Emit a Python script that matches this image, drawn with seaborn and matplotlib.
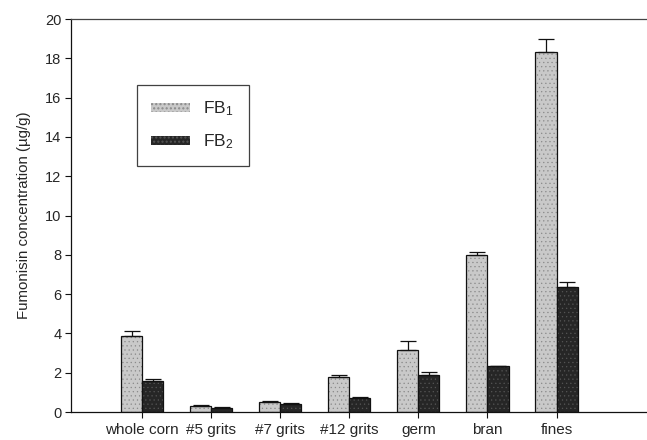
import numpy as np
import pandas as pd
import matplotlib
matplotlib.use("Agg")
import matplotlib.pyplot as plt
import seaborn as sns
from matplotlib.patches import Patch

fractions = ["whole corn", "#5 grits", "#7 grits", "#12 grits", "germ", "bran", "fines"]
fb1 = [3.88, 0.32, 0.49, 1.80, 3.14, 7.97, 18.30]
fb1_err = [0.24, 0.05, 0.09, 0.07, 0.46, 0.16, 0.67]
fb2 = [1.58, 0.19, 0.41, 0.70, 1.88, 2.32, 6.35]
fb2_err = [0.08, 0.05, 0.03, 0.05, 0.17, 0.02, 0.28]
series = ["FB1", "FB2"]
series_labels = ["FB$_1$", "FB$_2$"]
y_ticks = [0, 2, 4, 6, 8, 10, 12, 14, 16, 18, 20]

sns.set_theme(style="white")
plt.rcParams["font.family"] = ["Liberation Sans", "DejaVu Sans"]
plt.rcParams["mathtext.fontset"] = "custom"
plt.rcParams["mathtext.rm"] = "Liberation Sans"
plt.rcParams["mathtext.it"] = "Liberation Sans"

df = pd.DataFrame({
    "fraction": fractions * 2,
    "series": [series[0]] * len(fractions) + [series[1]] * len(fractions),
    "value": fb1 + fb2,
})
errs = {series[0]: fb1_err, series[1]: fb2_err}

fig = plt.figure(figsize=(6.47, 4.40), dpi=100)
ax = fig.add_axes([0.1097, 0.0636, 0.8903, 0.8932])

colors = {"FB1": "#c9c9c9", "FB2": "#262626"}
sns.barplot(data=df, x="fraction", y="value", hue="series", order=fractions,
            hue_order=series, palette=colors, width=0.61, dodge=True,
            edgecolor="#111111", linewidth=0.9, legend=False, ax=ax)

# stippled texture on the bars
hatch_cols = {"FB1": "#8a8a8a", "FB2": "#555555"}
for cont, s in zip(ax.containers, series):
    xs, hs = [], []
    for bar in cont:
        bar.set_hatch("....")
        bar.set_hatch_linewidth(0.4)
        bar._hatch_color = matplotlib.colors.to_rgba(hatch_cols[s])
        xs.append(bar.get_x() + bar.get_width() / 2)
        hs.append(bar.get_height())
    e = np.array(errs[s])
    ax.errorbar(xs, hs, yerr=[np.zeros_like(e), e], fmt="none", ecolor="#111111",
                elinewidth=0.9, capsize=6, capthick=0.9, zorder=1)

ax.set_xlim(-1.03, 7.31)
ax.set_ylim(0, 20)
ax.set_yticks(y_ticks)
ax.set_xlabel("")
ax.set_ylabel("Fumonisin concentration (\u00b5g/g)", fontsize=10.8, labelpad=10)
ax.tick_params(axis="both", direction="out", length=4, width=0.8, color="#111111",
               labelsize=10.5, pad=3)
ax.tick_params(axis="x", pad=4, labelsize=11)
ax.tick_params(left=True, bottom=True)
for side in ["left", "bottom"]:
    ax.spines[side].set_color("#111111")
    ax.spines[side].set_linewidth(0.9)
ax.spines["top"].set_color("#444444")
ax.spines["top"].set_linewidth(0.9)
ax.spines["right"].set_visible(False)

handles = [Patch(facecolor=colors[s], edgecolor="none", hatch="....") for s in series]
for h, s in zip(handles, series):
    h._hatch_color = matplotlib.colors.to_rgba(hatch_cols[s])
leg = ax.legend(handles, series_labels, loc="upper left", bbox_to_anchor=(0.114, 0.832),
                fontsize=12.5, frameon=True, fancybox=False, edgecolor="#111111",
                handlelength=2.2, handleheight=0.45, labelspacing=0.8,
                borderpad=0.85, handletextpad=0.8, borderaxespad=0)
leg.get_frame().set_linewidth(0.9)

fig.savefig("out.png", dpi=100)
